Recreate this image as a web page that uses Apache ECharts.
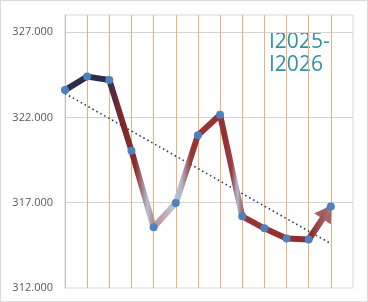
<!DOCTYPE html>
<html>
<head>
<meta charset="utf-8">
<script src="https://cdn.jsdelivr.net/npm/echarts@6/dist/echarts.min.js"></script>
<style>
  html, body { margin: 0; padding: 0; background: #fff; }
  #main {
    width: 368px;
    height: 302px;
    box-sizing: border-box;
    border: 1px solid #dadada;
  }
</style>
</head>
<body>
<div id="main"></div>
<script>
// values
var points = [0, 1, 2, 3, 4, 5, 6, 7, 8, 9, 10, 11, 12];
var values = [323.6, 324.39, 324.19, 320.05, 315.56, 316.98, 320.95, 322.15, 316.2, 315.5, 314.9, 314.84, 316.78];
// dotted trend line ends
var trendX = [0, 12];
var trendY = [323.4, 314.6];
var yTicks = [312, 317, 322, 327];
var titleLines = ['I2025-', 'I2026'];

var myChart = echarts.init(document.getElementById('main'));

var lineData = points.map(function (x, i) { return [x, values[i]]; });
var trendData = trendX.map(function (x, i) { return [x, trendY[i]]; });
var last = values.length - 1;

// colour runs along the line, left to right
var lineColor = new echarts.graphic.LinearGradient(0, 0, 1, 0, [
  { offset: 0, color: '#2e2b46' },
  { offset: 0.165, color: '#2c2d4b' },
  { offset: 0.21, color: '#78282f' },
  { offset: 0.27, color: '#8e2a2a' },
  { offset: 0.315, color: '#b6bfd2' },
  { offset: 0.335, color: '#b48c95' },
  { offset: 0.375, color: '#c0a8b2' },
  { offset: 0.41, color: '#bcc7d6' },
  { offset: 0.44, color: '#b0b4c4' },
  { offset: 0.475, color: '#973636' },
  { offset: 0.6, color: '#953030' },
  { offset: 0.625, color: '#9a4048' },
  { offset: 0.645, color: '#b4b6cc' },
  { offset: 0.66, color: '#a2747c' },
  { offset: 0.675, color: '#983636' },
  { offset: 0.915, color: '#8e2c2c' },
  { offset: 1, color: '#b0808a' }
]);

myChart.setOption({
  animation: false,
  grid: { left: 64, right: 14, top: 14, bottom: 13, show: true, borderColor: '#d9d9d9', borderWidth: 1 },
  xAxis: {
    type: 'value',
    min: 0,
    max: 13,
    interval: 1,
    axisLine: { show: false },
    axisTick: { show: false },
    axisLabel: { show: false },
    splitLine: { show: true, showMinLine: false, showMaxLine: false, lineStyle: { color: '#e8b27c', width: 1 } }
  },
  yAxis: {
    type: 'value',
    min: yTicks[0],
    max: 328,
    interval: 5,
    axisLine: { show: true, lineStyle: { color: '#bfbfbf' } },
    axisTick: { show: false },
    axisLabel: {
      showMaxLabel: false,
      margin: 12,
      color: '#595959',
      fontFamily: 'Open Sans',
      fontSize: 11,
      formatter: function (v) { return v.toFixed(3); }
    },
    splitLine: { show: true, showMinLine: false, showMaxLine: false, lineStyle: { color: '#d4d4d4', width: 1 } }
  },
  graphic: [{
    type: 'text',
    left: 268,
    top: 30,
    style: {
      text: titleLines.join('\n'),
      font: '21px "Open Sans"',
      lineHeight: 23,
      fill: '#3392a4'
    }
  }],
  series: [
    {
      type: 'line',
      data: trendData,
      symbol: 'none',
      z: 1,
      lineStyle: { color: '#1f3a64', width: 1.6, type: [1.5, 3] }
    },
    {
      type: 'line',
      data: lineData,
      symbol: 'circle',
      symbolSize: 8,
      z: 3,
      itemStyle: { color: '#4f81bd' },
      lineStyle: { color: lineColor, width: 6, cap: 'butt', join: 'round' },
      markLine: {
        silent: true,
        z: 2,
        symbol: ['none', 'triangle'],
        symbolSize: [20, 16],
        symbolOffset: [0, [0, 7]],
        label: { show: false },
        lineStyle: { type: 'solid', width: 6, color: '#a4646c' },
        data: [[
          { coord: [points[last - 1], values[last - 1]] },
          { coord: [points[last], values[last]] }
        ]]
      }
    }
  ]
});
</script>
</body>
</html>
